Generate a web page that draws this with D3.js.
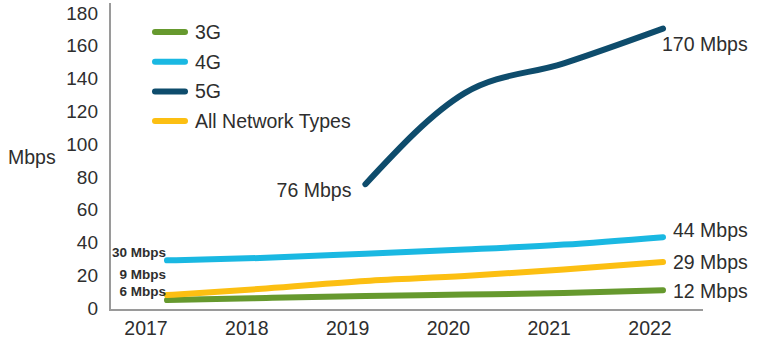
<!DOCTYPE html>
<html>
<head>
    <title>Mobile Network Speeds</title>
    <script src="https://d3js.org/d3.v7.min.js"></script>
    <style>
        body { margin: 0; background: #fff; }
        text { font-family: "Liberation Sans", Arial, sans-serif; fill: #2e2e2e; }
    </style>
</head>
<body>
<svg width="757" height="347"></svg>
<script>
    const years = [2017, 2018, 2019, 2020, 2021, 2022];
    const yTicks = [0, 20, 40, 60, 80, 100, 120, 140, 160, 180];

    const speeds3G = [6, 7.3, 8.5, 9.3, 10.3, 12];
    const speeds4G = [30, 31.5, 34, 36.5, 39.5, 44];
    const speeds5G = [null, null, 76, 131, 149, 170];
    const speedsAll = [9, 13, 17.5, 20.5, 24.5, 29];

    const seriesNames = ["3G", "4G", "5G", "All Network Types"];
    const seriesColors = ["#66992e", "#1ab8e2", "#0e4c6c", "#fcbf12"];
    const seriesValues = [speeds3G, speeds4G, speeds5G, speedsAll];

    const width = 757;
    const height = 347;

    const svg = d3.select("svg")
        .attr("width", width)
        .attr("height", height);

    // year labels sit on their own point scale, the lines on a slightly narrower span
    const xLabel = d3.scalePoint().domain(years).range([146, 650]);
    const xLine = d3.scaleLinear().domain([2017, 2022]).range([167, 663]);
    const y = d3.scaleLinear().domain([0, 180]).range([310, 12]);

    // axes
    svg.append("line")
        .attr("x1", 110).attr("x2", 110)
        .attr("y1", 3).attr("y2", 310)
        .attr("stroke", "#9a9a9a").attr("stroke-width", 2);
    svg.append("line")
        .attr("x1", 109).attr("x2", 703)
        .attr("y1", 310).attr("y2", 310)
        .attr("stroke", "#9a9a9a").attr("stroke-width", 2);

    svg.selectAll(".ytick")
        .data(yTicks)
        .enter().append("text")
        .attr("class", "ytick")
        .attr("x", 98)
        .attr("y", d => y(d) - 3 * (1 - d / 180) + 1)
        .attr("dy", "0.35em")
        .style("text-anchor", "end")
        .style("font-size", "19px")
        .text(d => d);

    svg.selectAll(".xtick")
        .data(years)
        .enter().append("text")
        .attr("class", "xtick")
        .attr("x", d => xLabel(d))
        .attr("y", 328)
        .attr("dy", "0.35em")
        .style("text-anchor", "middle")
        .style("font-size", "19.5px")
        .text(d => d);

    svg.append("text")
        .attr("x", 8)
        .attr("y", 157)
        .attr("dy", "0.35em")
        .style("font-size", "19.5px")
        .text("Mbps");

    // series lines
    const line = d3.line()
        .defined(d => d.v !== null)
        .x(d => xLine(d.year))
        .y(d => y(d.v))
        .curve(d3.curveMonotoneX);

    const drawOrder = [0, 3, 1, 2];
    drawOrder.forEach(i => {
        const pts = years.map((yr, j) => ({year: yr, v: seriesValues[i][j]}));
        svg.append("path")
            .datum(pts)
            .attr("d", line)
            .attr("fill", "none")
            .attr("stroke", seriesColors[i])
            .attr("stroke-width", 6)
            .attr("stroke-linecap", "round");
    });

    // end-of-line labels
    const last = years.length - 1;
    const endLabels = [
        {v: speeds5G[last], dx: -1, dy: 16},
        {v: speeds4G[last], dx: 10, dy: -7},
        {v: speedsAll[last], dx: 10, dy: 0},
        {v: speeds3G[last], dx: 10, dy: 1}
    ];
    svg.selectAll(".endlabel")
        .data(endLabels)
        .enter().append("text")
        .attr("class", "endlabel")
        .attr("x", d => xLine(2022) + d.dx)
        .attr("y", d => y(d.v) + d.dy)
        .attr("dy", "0.35em")
        .style("font-size", "19.5px")
        .text(d => d.v + " Mbps");

    svg.append("text")
        .attr("x", xLine(2019) - 14)
        .attr("y", y(speeds5G[2]) + 6)
        .attr("dy", "0.35em")
        .style("text-anchor", "end")
        .style("font-size", "19.5px")
        .text(speeds5G[2] + " Mbps");

    // start-of-line labels
    const startLabels = [
        {v: speeds4G[0], yPos: 252},
        {v: speedsAll[0], yPos: 274},
        {v: speeds3G[0], yPos: 291}
    ];
    svg.selectAll(".startlabel")
        .data(startLabels)
        .enter().append("text")
        .attr("class", "startlabel")
        .attr("x", 166)
        .attr("y", d => d.yPos)
        .attr("dy", "0.35em")
        .style("text-anchor", "end")
        .style("font-size", "13.5px")
        .style("font-weight", "bold")
        .text(d => d.v + " Mbps");

    // legend
    const legend = svg.selectAll(".legend")
        .data(seriesNames)
        .enter().append("g")
        .attr("class", "legend")
        .attr("transform", (d, i) => "translate(155," + (32 + i * 29.7) + ")");

    legend.append("line")
        .attr("x1", 0).attr("x2", 30)
        .attr("stroke", (d, i) => seriesColors[i])
        .attr("stroke-width", 6)
        .attr("stroke-linecap", "round");

    legend.append("text")
        .attr("x", 40)
        .attr("dy", "0.35em")
        .style("font-size", "19.5px")
        .text(d => d);
</script>
</body>
</html>
